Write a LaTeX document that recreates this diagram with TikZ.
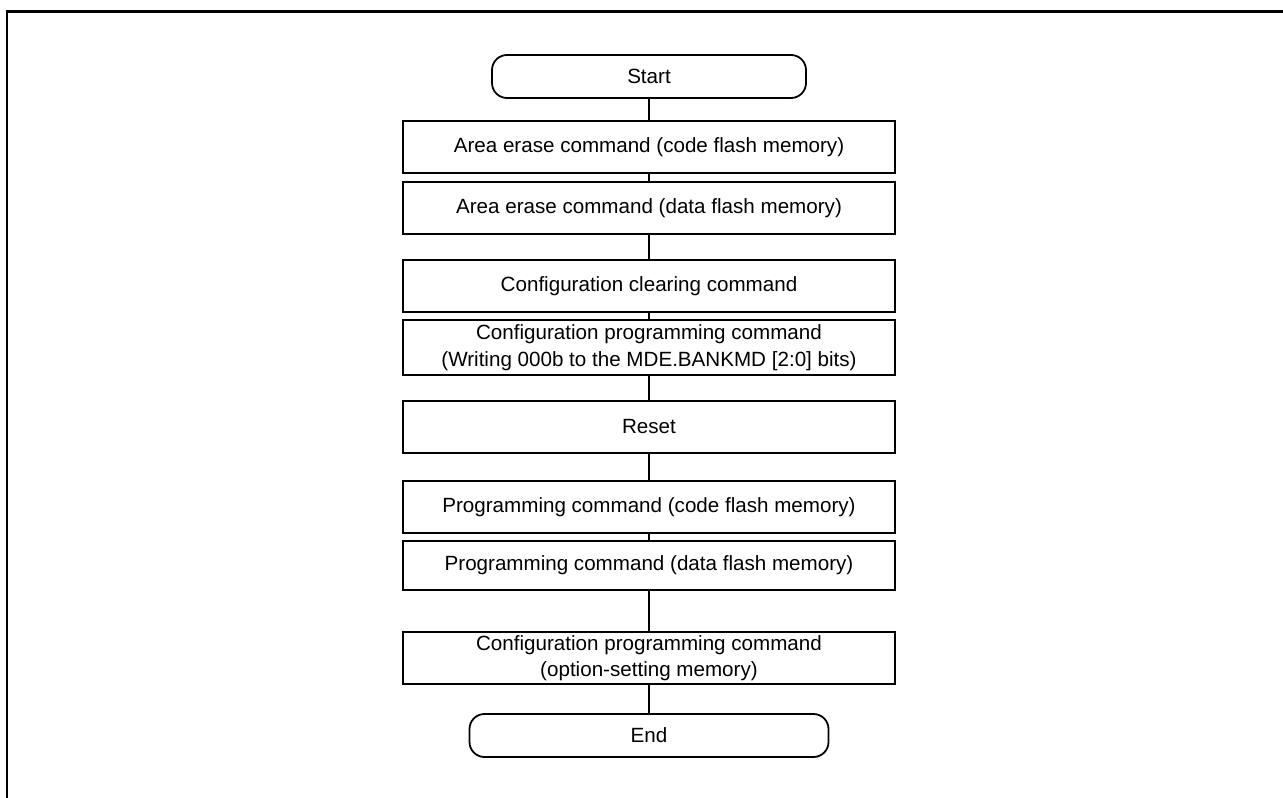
\documentclass[tikz,border=0pt]{standalone}
\usepackage{fontspec}
\setmainfont{Liberation Sans}
\usepackage{tikz}
\usetikzlibrary{positioning}
\tikzset{
  proc/.style={draw=black, line width=1.8pt, fill=white, outer sep=0pt, minimum width=492pt, minimum height=52pt, inner sep=2pt, align=center, font=\fontsize{20.6}{26.5}\selectfont},
  term/.style={draw=black, line width=1.8pt, fill=white, outer sep=0pt, rounded corners=15pt, minimum height=43pt, inner sep=2pt, font=\fontsize{20.6}{26.5}\selectfont},
  link/.style={line width=1.8pt, draw=black},
  frame/.style={line width=2.7pt, draw=black},
}
\begin{document}
\begin{tikzpicture}[x=1pt,y=-1pt]
  \useasboundingbox (0,0) rectangle (1283,798);
  % frame
  \draw[frame] (7,798) -- (7,11.3) -- (1283,11.3);
  % start
  \node[term,minimum width=314pt](start) at (649,76.5){Start};
  % erase
  \node[proc,below=23pt of start](ce){Area erase command (code flash memory)};
  \node[proc,below=9pt of ce](de){Area erase command (data flash memory)};
  % configuration
  \node[proc,below=26pt of de](cc){Configuration clearing command};
  \node[proc,minimum height=55pt,below=8pt of cc](cp){Configuration programming command\\(Writing 000b to the MDE.BANKMD [2:0] bits)};
  \node[proc,below=26pt of cp](rst){Reset};
  % programming
  \node[proc,below=28pt of rst](cw){Programming command (code flash memory)};
  \node[proc,minimum height=49pt,below=8pt of cw](dw){Programming command (data flash memory)};
  \node[proc,below=42pt of dw](op){Configuration programming command\\(option-setting memory)};
  % end
  \node[term,minimum width=359pt,below=30pt of op](end){End};
  % links
  \draw[link](start)--(ce);
  \draw[link](ce)--(de);
  \draw[link](de)--(cc);
  \draw[link](cc)--(cp);
  \draw[link](cp)--(rst);
  \draw[link](rst)--(cw);
  \draw[link](cw)--(dw);
  \draw[link](dw)--(op);
  \draw[link](op)--(end);
\end{tikzpicture}
\end{document}
